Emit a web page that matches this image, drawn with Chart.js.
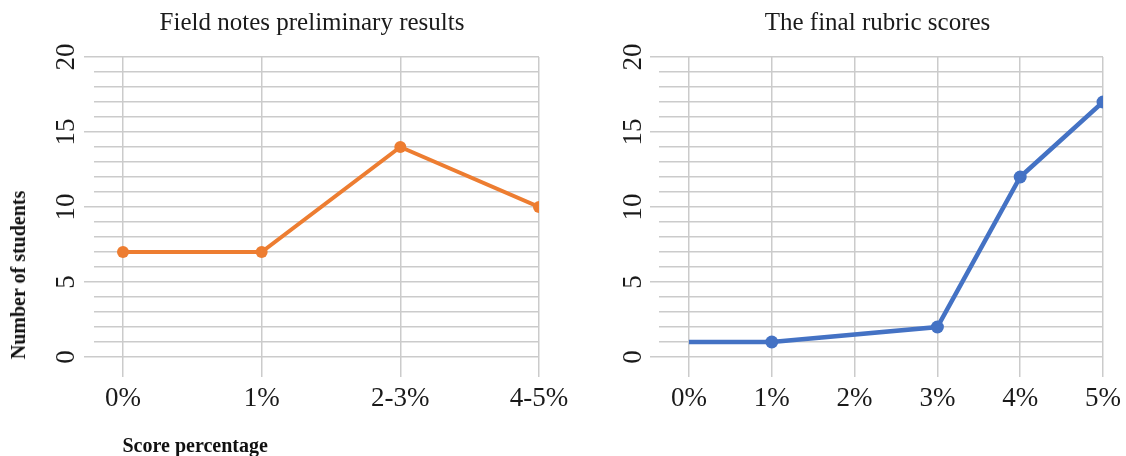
<!DOCTYPE html>
<html>
<head>
<meta charset="utf-8">
<script src="https://cdn.jsdelivr.net/npm/chart.js@4.4.1/dist/chart.umd.min.js"></script>
<style>
  html, body { margin: 0; padding: 0; width: 1126px; height: 456px; overflow: hidden; background: #fff; }
  .box { position: absolute; top: 0; height: 456px; }
  #leftBox { left: 0; width: 624px; }
  #rightBox { left: 600px; width: 555px; }
  .lbl { position: absolute; font-family: "Liberation Serif", "Times New Roman", serif; font-weight: bold;
         font-size: 20px; line-height: 20px; color: #111; white-space: nowrap; }
  #yTitle { left: 18px; top: 274.5px; transform: translate(-50%, -50%) rotate(-90deg); }
  #xTitle { left: 122.5px; top: 435px; }
</style>
</head>
<body>
<div class="box" id="leftBox"><canvas id="chartLeft"></canvas></div>
<div class="box" id="rightBox"><canvas id="chartRight"></canvas></div>
<div class="lbl" id="yTitle">Number of students</div>
<div class="lbl" id="xTitle">Score percentage</div>
<script>
// data
var leftTitle = 'Field notes preliminary results';
var leftLabels = ['0%', '1%', '2-3%', '4-5%'];
var leftValues = [7, 7, 14, 10];

var rightTitle = 'The final rubric scores';
var rightLabels = ['0%', '1%', '2%', '3%', '4%', '5%'];
var rightValues = [1, 1, null, 2, 12, 17]; // no point at 2%, line spans the gap

var yTicks = [0, 5, 10, 15, 20];

var serif = '"Liberation Serif", "Times New Roman", serif';
var gridColor = '#cbcbcb';
var textColor = '#1a1a1a';

function makeChart(id, title, labels, values, color, lay) {
  var points = values.map(function (v, i) { return { x: i, y: v }; });

  return new Chart(document.getElementById(id).getContext('2d'), {
    type: 'line',
    data: {
      datasets: [{
        data: points,
        yAxisID: 'y',
        borderColor: color,
        backgroundColor: color,
        pointBackgroundColor: color,
        borderWidth: lay.line,
        pointBorderWidth: 0,
        pointRadius: function (c) { return lay.hideFirst && c.dataIndex === 0 ? 0 : lay.dot; },
        pointHoverRadius: lay.dot,
        spanGaps: true,
        tension: 0,
      }],
    },
    options: {
      responsive: true,
      maintainAspectRatio: false,
      animation: false,
      layout: { padding: 0 },
      plugins: {
        legend: { display: false },
        tooltip: { enabled: false },
        title: {
          display: true,
          text: title,
          color: textColor,
          font: { family: serif, size: 25, weight: 'normal' },
          padding: { top: 8.6, bottom: 18.4 },
        },
      },
      scales: {
        x: {
          type: 'linear',
          bounds: 'data',
          min: lay.xMin,
          max: labels.length - 1,
          border: { display: false },
          grid: { color: gridColor, lineWidth: 1.5, tickLength: 20 },
          afterBuildTicks: function (s) {
            s.ticks = labels.map(function (l, i) { return { value: i }; });
          },
          afterFit: function (s) { s.height = 99; },
          ticks: {
            autoSkip: false,
            maxRotation: 0,
            padding: 6.2,
            color: textColor,
            font: { family: serif, size: 27 },
            callback: function (v) { return labels[v] !== undefined ? labels[v] : ''; },
          },
        },
        y: {
          min: 0,
          max: 20,
          border: { display: false },
          grid: {
            color: gridColor,
            lineWidth: 1.5,
            tickLength: lay.tick,
            tickColor: function (c) {
              return c.tick && yTicks.indexOf(c.tick.value) >= 0 ? gridColor : 'rgba(0,0,0,0)';
            },
          },
          ticks: {
            stepSize: 1,
            autoSkip: false,
            minRotation: 90,
            maxRotation: 90,
            crossAlign: 'center',
            padding: lay.pad,
            color: textColor,
            font: { family: serif, size: 27 },
            callback: function (v) { return yTicks.indexOf(v) >= 0 ? String(v) : ''; },
          },
          afterFit: function (s) { s.width = lay.axisW; },
        },
        // empty right axis: keeps white space right of the plot so the title centres like the original
        spacer: {
          type: 'linear',
          axis: 'y',
          position: 'right',
          grid: { display: false },
          border: { display: false },
          ticks: { display: false },
          afterFit: function (s) { s.width = lay.right; },
        },
      },
    },
  });
}

var chartLeft = makeChart('chartLeft', leftTitle, leftLabels, leftValues, '#ED7D31',
  { line: 4, dot: 6, right: 85, xMin: -0.209, tick: 10, pad: 4, axisW: 94, hideFirst: false });

var chartRight = makeChart('chartRight', rightTitle, rightLabels, rightValues, '#4472C4',
  { line: 4.5, dot: 6.5, right: 52, xMin: -0.362, tick: 9, pad: 3, axisW: 59, hideFirst: true });
</script>
</body>
</html>
